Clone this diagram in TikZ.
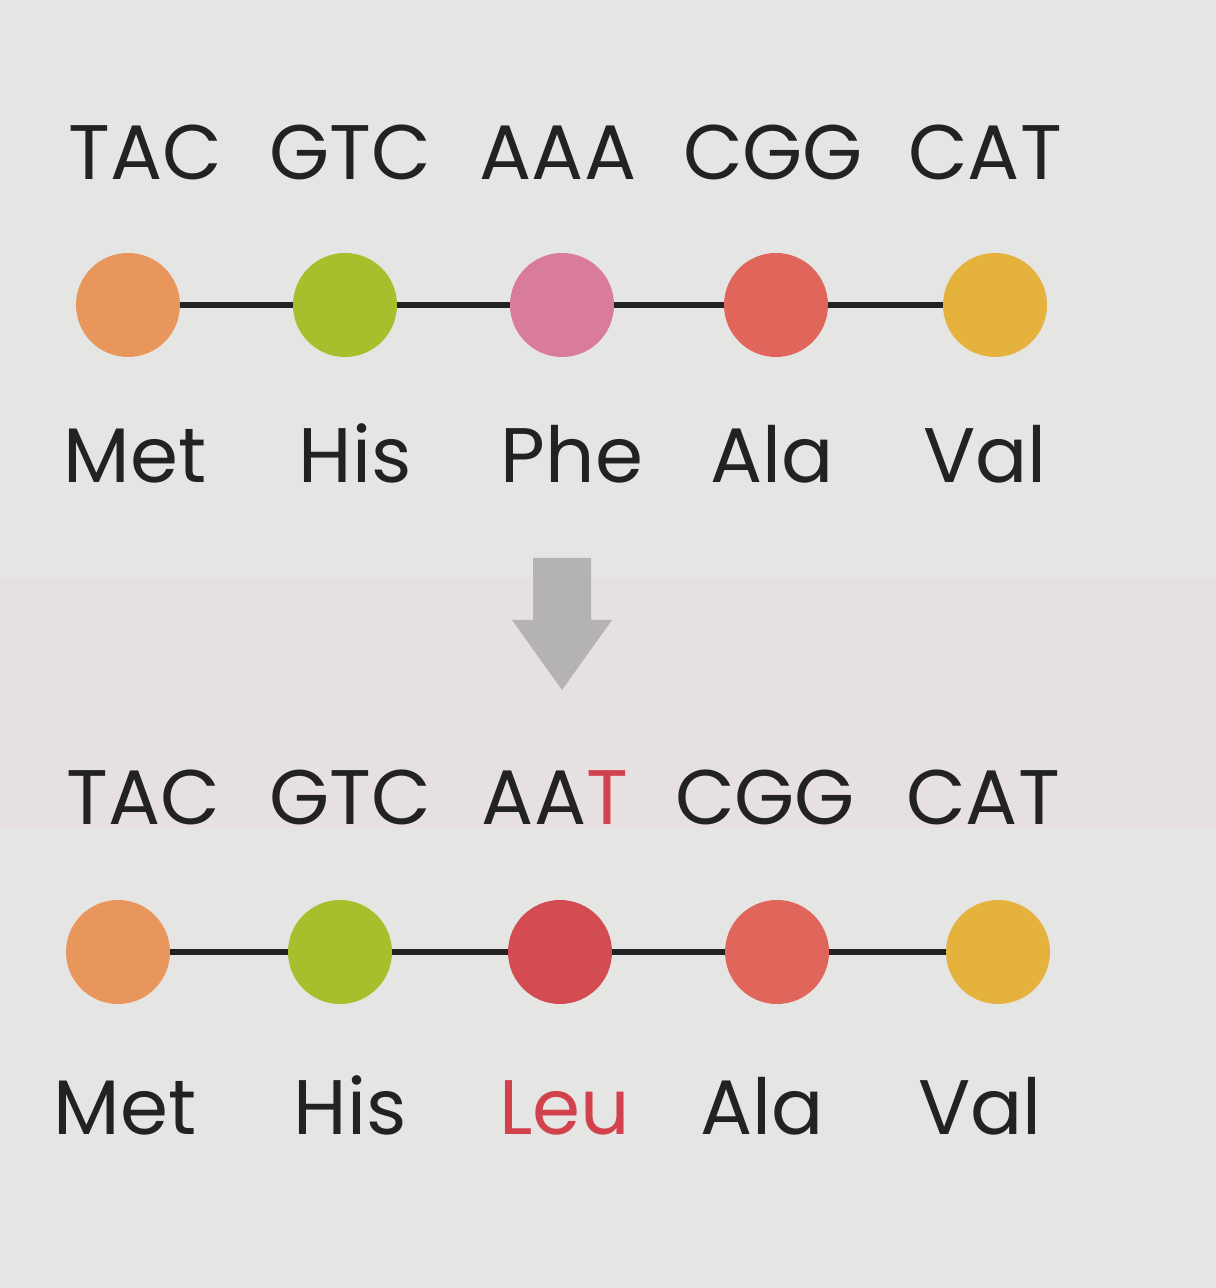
\documentclass[tikz,border=0pt]{standalone}
\usepackage{fontspec}
\setmainfont{Poppins}
\usetikzlibrary{shapes.geometric}
\definecolor{paper}{HTML}{E5E5E3}
\definecolor{band}{HTML}{E7E0E0}
\definecolor{cOrange}{HTML}{E8965C}
\definecolor{cGreen}{HTML}{A9BE2C}
\definecolor{cPink}{HTML}{D97C9C}
\definecolor{cCoral}{HTML}{E0665C}
\definecolor{cYellow}{HTML}{E6B23E}
\definecolor{cRed}{HTML}{D24C52}
\definecolor{mutred}{HTML}{D2424C}
\definecolor{ink}{HTML}{222222}
\definecolor{arrowgrey}{HTML}{B4B2B4}
\tikzset{
  codon/.style={anchor=base, text=ink, font=\fontsize{22}{26}\selectfont, inner sep=0pt},
  amino/.style={anchor=base, text=ink, font=\fontsize{22}{26}\selectfont, inner sep=0pt},
  bead/.style={circle, minimum size=1.04cm, inner sep=0pt},
  bond/.style={draw=ink, line width=1.6pt},
  downarrow/.style={fill=arrowgrey},
}
\begin{document}
\begin{tikzpicture}
\useasboundingbox (0,0) rectangle (12.16,12.88);
\fill[paper] (0,0) rectangle (12.16,12.88);
\fill[band] (0,4.6) rectangle (12.16,7.1);
% top row codons
\node[codon] (t1) at (1.45,11.08) {TAC};
\node[codon] (t2) at (3.50,11.08) {GTC};
\node[codon] (t3) at (5.58,11.08) {AAA};
\node[codon] (t4) at (7.73,11.08) {CGG};
\node[codon] (t5) at (9.85,11.08) {CAT};
% top chain
\coordinate (u1) at (1.28,9.83);
\coordinate (u2) at (3.45,9.83);
\coordinate (u3) at (5.62,9.83);
\coordinate (u4) at (7.76,9.83);
\coordinate (u5) at (9.95,9.83);
\draw[bond] (u1) -- (u2) -- (u3) -- (u4) -- (u5);
\node[bead, fill=cOrange] (a1) at (u1) {};
\node[bead, fill=cGreen] (a2) at (u2) {};
\node[bead, fill=cPink] (a3) at (u3) {};
\node[bead, fill=cCoral] (a4) at (u4) {};
\node[bead, fill=cYellow] (a5) at (u5) {};
% top labels
\node[amino] (m1) at (1.35,8.05) {Met};
\node[amino] (m2) at (3.55,8.05) {His};
\node[amino] (m3) at (5.72,8.05) {Phe};
\node[amino] (m4) at (7.72,8.05) {Ala};
\node[amino] (m5) at (9.85,8.05) {Val};
% arrow
\fill[downarrow] (5.33,7.30) -- (5.91,7.30) -- (5.91,6.68) -- (6.12,6.68)
  -- (5.62,5.98) -- (5.12,6.68) -- (5.33,6.68) -- cycle;
% bottom row codons
\node[codon] (b1) at (1.43,4.63) {TAC};
\node[codon] (b2) at (3.50,4.63) {GTC};
\node[codon] (b3) at (5.55,4.63) {AA\textcolor{mutred}{T}};
\node[codon] (b4) at (7.65,4.63) {CGG};
\node[codon] (b5) at (9.83,4.63) {CAT};
% bottom chain
\coordinate (v1) at (1.18,3.36);
\coordinate (v2) at (3.40,3.36);
\coordinate (v3) at (5.60,3.36);
\coordinate (v4) at (7.77,3.36);
\coordinate (v5) at (9.98,3.36);
\draw[bond] (v1) -- (v2) -- (v3) -- (v4) -- (v5);
\node[bead, fill=cOrange] (c1) at (v1) {};
\node[bead, fill=cGreen] (c2) at (v2) {};
\node[bead, fill=cRed] (c3) at (v3) {};
\node[bead, fill=cCoral] (c4) at (v4) {};
\node[bead, fill=cYellow] (c5) at (v5) {};
% bottom labels
\node[amino] (n1) at (1.25,1.53) {Met};
\node[amino] (n2) at (3.50,1.53) {His};
\node[amino, text=mutred] (n3) at (5.65,1.53) {Leu};
\node[amino] (n4) at (7.62,1.53) {Ala};
\node[amino] (n5) at (9.80,1.53) {Val};
\end{tikzpicture}
\end{document}
